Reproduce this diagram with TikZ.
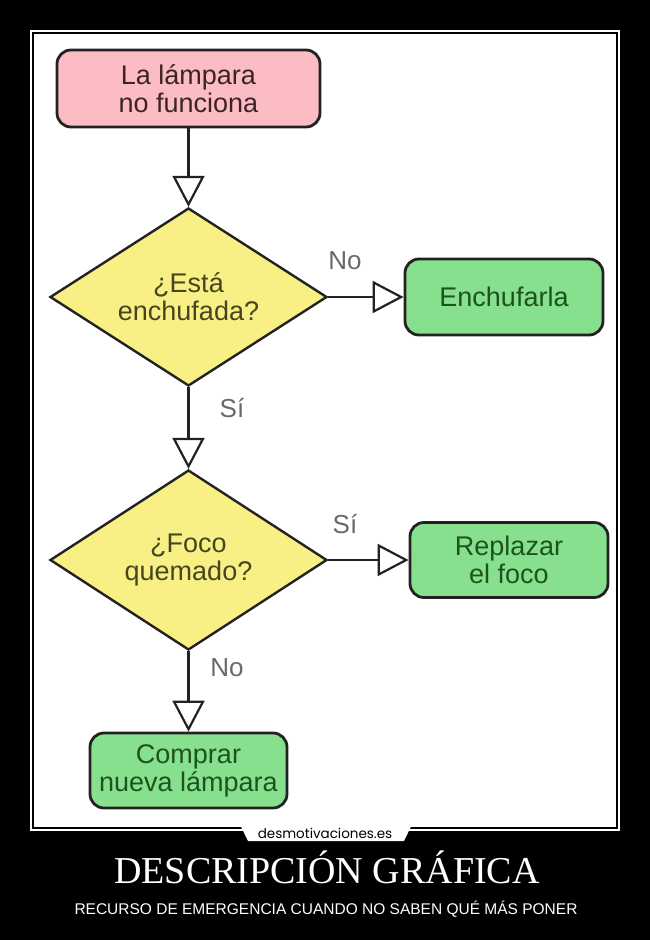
\documentclass[tikz,border=0pt]{standalone}
\usepackage{fontspec}
\setmainfont{Liberation Sans}
\newfontfamily\titlefont{Liberation Serif}
\newfontfamily\wmfont{Poppins}
\usetikzlibrary{shapes.geometric,arrows.meta}
\definecolor{pinkfill}{RGB}{252,188,196}
\definecolor{yellowfill}{RGB}{248,240,132}
\definecolor{greenfill}{RGB}{134,224,142}
\definecolor{pinktext}{RGB}{60,36,38}
\definecolor{yellowtext}{RGB}{70,70,30}
\definecolor{greentext}{RGB}{28,84,30}
\definecolor{lbltext}{RGB}{105,105,105}
\definecolor{edge}{RGB}{34,34,34}
\tikzset{
  boxbase/.style={rectangle, rounded corners=14pt, draw=edge, line width=2.8pt,
    align=center, inner sep=0pt, font=\fontsize{27}{28}\selectfont},
  startbox/.style={boxbase, fill=pinkfill, text=pinktext, minimum width=263pt, minimum height=77pt},
  endbox/.style={boxbase, fill=greenfill, text=greentext, minimum width=198pt, minimum height=76pt},
  decision/.style={diamond, draw=edge, line width=2.4pt, fill=yellowfill, text=yellowtext,
    aspect=1.556, inner sep=0pt, minimum width=277pt, minimum height=178pt,
    align=center, font=\fontsize{27}{28}\selectfont},
  lbl/.style={text=lbltext, inner sep=0pt, font=\fontsize{26}{28}\selectfont},
  conn/.style={draw=edge, line width=2.2pt,
    -{Triangle[fill=white, length=31pt, width=32pt, line width=2.2pt]}},
}
\begin{document}
\begin{tikzpicture}[x=1pt,y=-1pt]
\fill[black] (0,0) rectangle (650,940);
\fill[white] (30,30) rectangle (620,831);
\draw[black, line width=1.6pt] (32.8,32.8) rectangle (617.2,828.2);

\node[startbox] (start) at (188.5,88.5) {La lámpara\\no funciona};
\node[decision] (d1) at (188.5,297) {¿Está\\enchufada?};
\node[endbox] (plug) at (504,297) {Enchufarla};
\node[decision, minimum height=180pt] (d2) at (188.5,560) {¿Foco\\quemado?};
\node[endbox, minimum height=75pt] (bulb) at (509,560) {Replazar\\el foco};
\node[endbox, minimum width=197pt, minimum height=75pt] (buy) at (188.5,770.5) {Comprar\\nueva lámpara};

\draw[conn] (start.south) -- (d1.north);
\draw[conn] (d1.east) -- (plug.west);
\draw[conn] (d1.south) -- (d2.north);
\draw[conn] (d2.east) -- (bulb.west);
\draw[conn] (d2.south) -- (buy.north);

\node[lbl] (l1) at (345,261) {No};
\node[lbl] (l2) at (232,408) {Sí};
\node[lbl] (l3) at (345,524) {Sí};
\node[lbl] (l4) at (227,668) {No};

\fill[white] (241,826.5) -- (411,826.5) -- (404,841) -- (248,841) -- cycle;
\node[inner sep=0pt, text=black, font=\wmfont\fontsize{13.5}{14}\selectfont] (wm) at (325,833.5) {desmotivaciones.es};

\node[anchor=base, inner sep=0pt, text=white, font=\titlefont\fontsize{38}{40}\selectfont] (title) at (327,883) {DESCRIPCIÓN GRÁFICA};
\node[anchor=base, inner sep=0pt, text=white, font=\fontsize{15.5}{17}\selectfont] (sub) at (326,914) {RECURSO DE EMERGENCIA CUANDO NO SABEN QUÉ MÁS PONER};
\end{tikzpicture}
\end{document}
